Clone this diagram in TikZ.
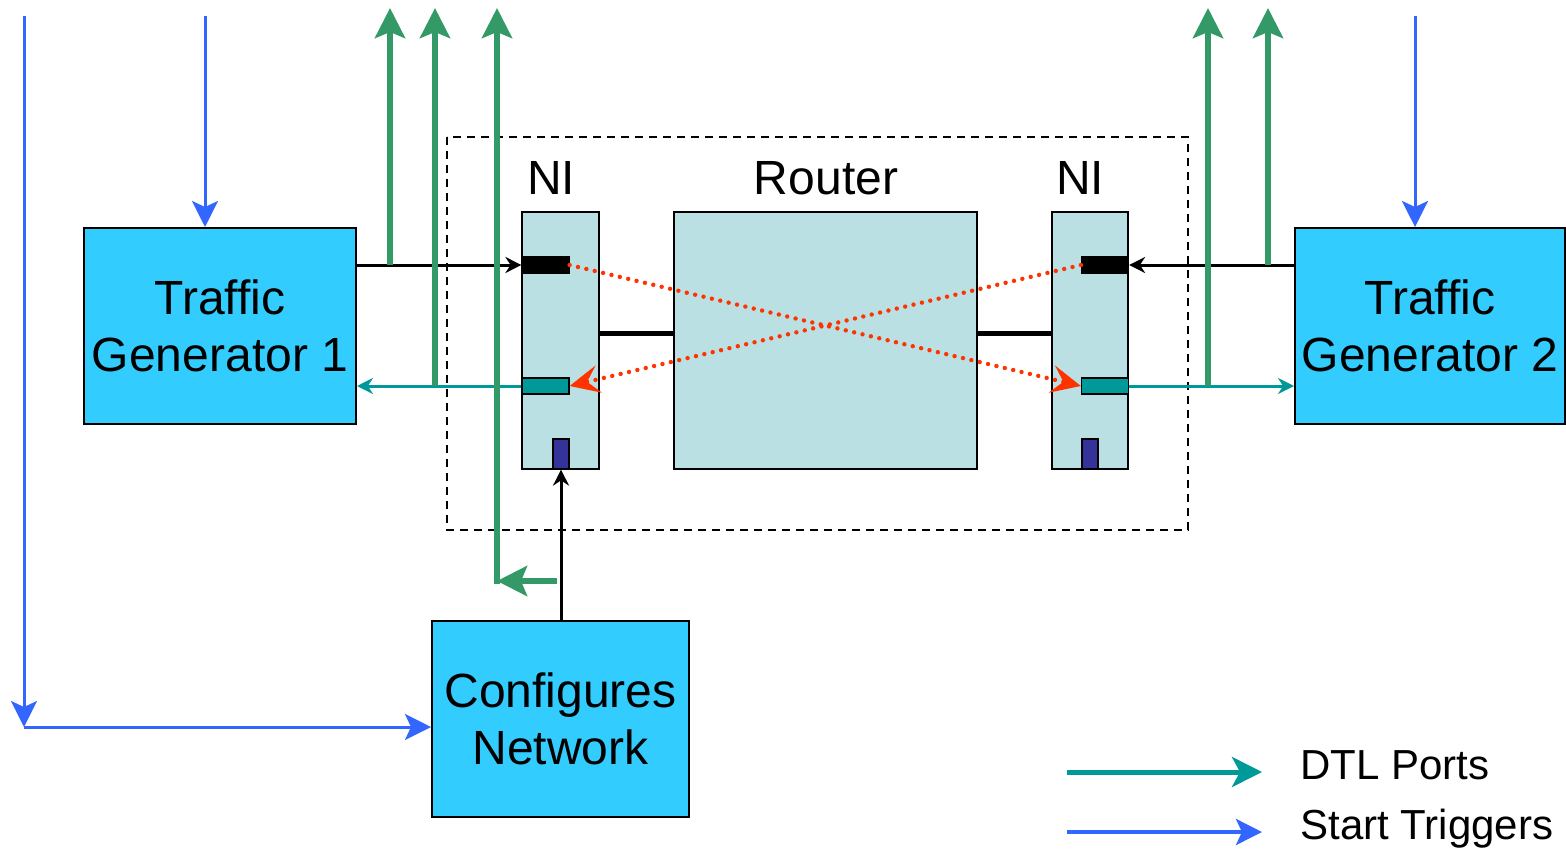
\documentclass[tikz,border=0pt]{standalone}
\usepackage{fontspec}
\setmainfont{Liberation Sans}
\usetikzlibrary{arrows.meta}
\definecolor{tgcyan}{HTML}{33CCFF}
\definecolor{nifill}{HTML}{BBE0E3}
\definecolor{dtlteal}{HTML}{009999}
\definecolor{mongreen}{HTML}{339966}
\definecolor{trigblue}{HTML}{3366FF}
\definecolor{pathred}{HTML}{FF3300}
\definecolor{cfgblue}{HTML}{333399}

\begin{document}
\begin{tikzpicture}[x=0.5pt, y=-0.5pt, font=\fontsize{24}{28.5}\selectfont,
		unit/.style={draw=black, line width=1pt, fill=tgcyan, inner sep=0pt, align=center,
			minimum width=136pt, minimum height=98pt},
		block/.style={draw=black, line width=1pt, fill=nifill, inner sep=0pt,
			minimum height=128.5pt},
		port/.style={draw=black, line width=0.6pt, inner sep=0pt, minimum width=23.5pt, minimum height=8pt},
		blk/.style={line width=1.5pt, -{Stealth[length=8pt, width=8pt]}},
		dtl/.style={dtlteal, line width=1.5pt, -{Stealth[length=8pt, width=8pt]}},
		mon/.style={mongreen, line width=3pt, -{Stealth[length=15pt, width=15pt, inset=3pt]}},
		trig/.style={trigblue, line width=1.5pt, -{Stealth[length=13pt, width=13pt, inset=3pt]}},
		cross/.style={pathred, line width=2.2pt, line cap=round, dash pattern=on 0pt off 4.3pt,
			-{Stealth[length=15pt, width=14pt, inset=6pt, line width=0pt]}}]
	\useasboundingbox (0,0) rectangle (1566,850);
	% boxes
	\node[unit] (tgone) at (220,326) {Traffic\\Generator 1};
	\node[unit, minimum width=135pt] (tgtwo) at (1430,326) {Traffic\\Generator 2};
	\node[unit, minimum width=128.5pt] (config) at (560.5,719) {Configures\\Network};
	\draw[line width=1pt, dash pattern=on 4pt off 3pt] (447,137) rectangle (1188,530);
	\node[block, minimum width=38.5pt] (nil) at (560.5,340.5) {};
	\node[block, minimum width=151.5pt] (router) at (825.5,340.5) {};
	\node[block, minimum width=38pt] (nir) at (1090,340.5) {};
	\node[anchor=base] (nilabel) at (551,195) {NI};
	\node[anchor=base] (routerlabel) at (826,195) {Router};
	\node[anchor=base] (nirlabel) at (1080,195) {NI};
	% ports
	\node[port, fill=black] (pbl) at (545.5,265) {};
	\node[port, fill=dtlteal] (ptl) at (545.5,386) {};
	\node[port, fill=cfgblue, minimum width=8pt, minimum height=15pt] (pcl) at (561,454) {};
	\node[port, fill=black] (pbr) at (1105,265) {};
	\node[port, fill=dtlteal] (ptr) at (1105,386) {};
	\node[port, fill=cfgblue, minimum width=8pt, minimum height=15pt] (pcr) at (1090,454) {};
	% links router - NI
	\draw[line width=2.5pt] (nil.east |- 0,333) -- (router.west |- 0,333);
	\draw[line width=2.5pt] (router.east |- 0,333) -- (nir.west |- 0,333);
	% data ports
	\draw[blk] (tgone.east |- pbl) -- (pbl.west);
	\draw[dtl] (ptl.west) -- (tgone.east |- ptl);
	\draw[blk] (tgtwo.west |- pbr) -- (pbr.east);
	\draw[dtl] (ptr.east) -- (tgtwo.west |- ptr);
	\draw[blk] (config.north -| pcl.south) -- (pcl.south);
	% paths through the router
	\draw[cross] (pbl.east) -- (ptr.west);
	\draw[cross] (pbr.west) -- (ptl.east);
	% monitor taps
	\coordinate (mtop) at (0,8);
	\coordinate (mone) at (390,265);
	\coordinate (mtwo) at (435,386);
	\coordinate (mthree) at (497,581);
	\coordinate (mcfg) at (557,581);
	\coordinate (mfour) at (1208,386);
	\coordinate (mfive) at (1268,265);
	\draw[mon] (mone) -- (mone |- mtop);
	\draw[mon] (mtwo) -- (mtwo |- mtop);
	\draw[mon] ([yshift=-1.5pt]mthree) -- (mthree |- mtop);
	\draw[mon] (mcfg) -- (mthree);
	\draw[mon] (mfour) -- (mfour |- mtop);
	\draw[mon] (mfive) -- (mfive |- mtop);
	% start triggers
	\coordinate (tone) at (24,16);
	\coordinate (ttwo) at (205,16);
	\coordinate (tthree) at (1415,16);
	\coordinate (tcfg) at (24,727);
	\draw[trig] (tone) -- (tcfg);
	\draw[trig] (tcfg) -- (tcfg -| config.west);
	\draw[trig] (ttwo) -- (ttwo |- tgone.north);
	\draw[trig] (tthree) -- (tthree |- tgtwo.north);
	% legend
	\node[anchor=base west, inner sep=0pt, font=\fontsize{21}{25}\selectfont] (legdtl) at (1300,779) {DTL Ports};
	\node[anchor=base west, inner sep=0pt, font=\fontsize{21}{25}\selectfont] (legtrig) at (1300,839) {Start Triggers};
	\coordinate (legone) at (1067,772);
	\coordinate (legtwo) at (1067,832);
	\draw[dtlteal, line width=2.5pt, -{Stealth[length=15pt, width=15pt, inset=4pt]}] (legone) -- ++(195,0);
	\draw[trigblue, line width=2pt, -{Stealth[length=13pt, width=13pt, inset=3pt]}] (legtwo) -- ++(195,0);
\end{tikzpicture}
\end{document}
